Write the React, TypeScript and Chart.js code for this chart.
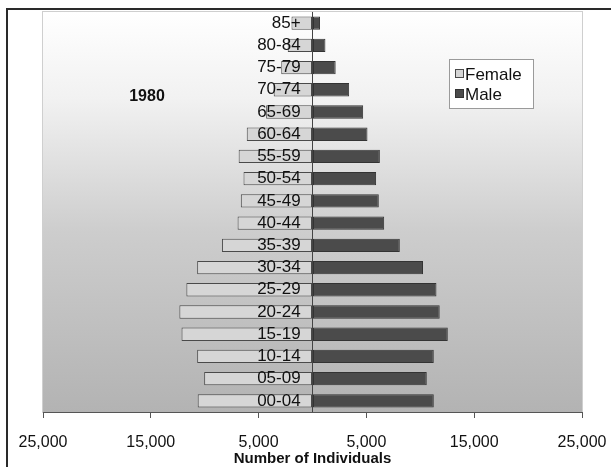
import React, { useEffect, useRef } from "react";
import { Chart, registerables } from "chart.js";

Chart.register(...registerables);

const AGE_GROUPS = [
  "85+", "80-84", "75-79", "70-74", "65-69", "60-64", "55-59", "50-54", "45-49",
  "40-44", "35-39", "30-34", "25-29", "20-24", "15-19", "10-14", "05-09", "00-04",
];
const FEMALE = [
  1950, 2300, 2900, 3600, 4300, 6100, 6850, 6400, 6650,
  6950, 8400, 10700, 11700, 12350, 12150, 10700, 10050, 10650,
];
const MALE = [
  700, 1200, 2150, 3400, 4700, 5100, 6250, 5900, 6150,
  6650, 8100, 10250, 11500, 11800, 12550, 11250, 10600, 11250,
];
const X_TICKS = [-25000, -15000, -5000, 0, 5000, 15000, 25000];
const YEAR_LABEL = "1980";
const X_TITLE = "Number of Individuals";

const FONT = "'Liberation Sans', Arial, sans-serif";

const framePlugin = {
  id: "frame",
  beforeDraw(chart: any) {
    const { ctx, chartArea } = chart;
    const { left, top, right, bottom } = chartArea;
    ctx.save();
    const g = ctx.createLinearGradient(0, top, 0, bottom);
    g.addColorStop(0, "#ffffff");
    g.addColorStop(0.22, "#f1f1f1");
    g.addColorStop(0.55, "#cdcdcd");
    g.addColorStop(1, "#b3b3b3");
    ctx.fillStyle = g;
    ctx.fillRect(left, top, right - left, bottom - top);
    ctx.strokeStyle = "#cfcfcf";
    ctx.lineWidth = 1;
    ctx.strokeRect(Math.round(left) - 0.5, Math.round(top) - 0.5, right - left + 1, bottom - top + 1);
    ctx.restore();
  },
  afterDraw(chart: any) {
    const { ctx } = chart;
    ctx.save();
    ctx.strokeStyle = "#2a2a2a";
    ctx.lineWidth = 2;
    ctx.strokeRect(7, 9, 900, 900);
    ctx.fillStyle = "#111";
    ctx.font = `bold 16px ${FONT}`;
    ctx.textAlign = "center";
    ctx.textBaseline = "middle";
    ctx.fillText(YEAR_LABEL, 147, 97);
    ctx.fillStyle = "#ffffff";
    ctx.fillRect(449.5, 59.5, 84, 49);
    ctx.strokeStyle = "#9a9a9a";
    ctx.lineWidth = 1;
    ctx.strokeRect(449.5, 59.5, 84, 49);
    ctx.font = `17px ${FONT}`;
    ctx.textAlign = "left";
    chart.data.datasets.forEach((ds: any, i: number) => {
      const cy = 74 + i * 20;
      ctx.fillStyle = ds.backgroundColor;
      ctx.fillRect(455.5, cy - 4.5, 8, 8);
      ctx.strokeStyle = ds.borderColor;
      ctx.strokeRect(455.5, cy - 4.5, 8, 8);
      ctx.fillStyle = "#111";
      ctx.fillText(ds.label, 465, cy + 1);
    });
    ctx.restore();
  },
};

export default function App() {
  const ref = useRef<HTMLCanvasElement>(null);
  useEffect(() => {
    if (!ref.current) return;
    const chart = new Chart(ref.current, {
      type: "bar",
      data: {
        labels: AGE_GROUPS,
        datasets: [
          {
            label: "Female",
            data: FEMALE.map((v) => -v),
            backgroundColor: "#d6d6d6",
            borderColor: "#4a4a4a",
            borderWidth: 1,
            borderSkipped: false,
            barPercentage: 0.6,
            categoryPercentage: 1,
          },
          {
            label: "Male",
            data: MALE,
            backgroundColor: "#4b4b4b",
            borderColor: "#333333",
            borderWidth: 1,
            borderSkipped: false,
            barPercentage: 0.6,
            categoryPercentage: 1,
          },
        ],
      },
      options: {
        indexAxis: "y",
        responsive: false,
        animation: false,
        devicePixelRatio: 1,
        layout: { padding: { left: 43, top: 12, right: 29, bottom: 0 } },
        plugins: { legend: { display: false }, tooltip: { enabled: false } },
        scales: {
          x: {
            type: "linear",
            stacked: true,
            min: -25000,
            max: 25000,
            afterBuildTicks: (s: any) => {
              s.ticks = X_TICKS.map((v) => ({ value: v }));
            },
            afterFit: (s: any) => {
              s.height = 55;
              s.paddingLeft = 0;
              s.paddingRight = 0;
            },
            ticks: {
              autoSkip: false,
              maxRotation: 0,
              padding: 15,
              color: "#111",
              font: { family: FONT, size: 16 },
              callback: (v: any) => (Number(v) === 0 ? "" : Math.abs(Number(v)).toLocaleString("en-US")),
            },
            grid: {
              drawOnChartArea: true,
              drawTicks: true,
              tickLength: 6,
              color: (c: any) => (c.tick && c.tick.value === 0 ? "#444444" : "rgba(0,0,0,0)"),
              tickColor: (c: any) => (c.tick && c.tick.value === 0 ? "rgba(0,0,0,0)" : "#555555"),
            },
            border: { display: true, color: "#555555", width: 1 },
            title: {
              display: true,
              text: X_TITLE,
              color: "#111",
              font: { family: FONT, size: 15, weight: "bold" },
              padding: { top: 0, bottom: -1 },
            },
          },
          y: {
            type: "category",
            stacked: true,
            position: { x: -1100 } as any,
            grid: { display: false },
            border: { display: false },
            ticks: {
              z: 1,
              color: "#111",
              font: { family: FONT, size: 17 },
              padding: 0,
              autoSkip: false,
            },
          },
        },
      },
      plugins: [framePlugin],
    } as any);
    return () => chart.destroy();
  }, []);
  return (
    <div style={{ position: "fixed", left: 0, top: 0, width: 611, height: 467, background: "#fff" }}>
      <canvas ref={ref} width={611} height={467} style={{ display: "block" }} />
    </div>
  );
}
